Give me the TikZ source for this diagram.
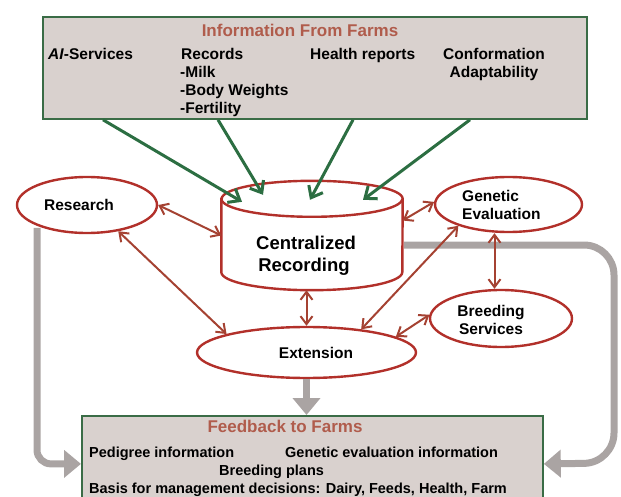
\documentclass[tikz,border=0pt]{standalone}
\usepackage{fontspec}
\setmainfont{Liberation Sans}
\usetikzlibrary{arrows.meta,calc,shapes.geometric}
\definecolor{boxgreen}{RGB}{58,108,70}
\definecolor{arrgreen}{RGB}{44,110,66}
\definecolor{ellred}{RGB}{178,48,42}
\definecolor{arrred}{RGB}{165,66,50}
\definecolor{titlered}{RGB}{176,92,76}
\definecolor{boxfill}{RGB}{217,209,206}
\definecolor{flowgray}{RGB}{170,164,163}
\begin{document}
\begin{tikzpicture}[x=1pt,y=-1pt,
  farmbox/.style={draw=boxgreen, line width=1.8pt, fill=boxfill, rectangle, inner sep=0pt},
  oval/.style={ellipse, draw=ellred, line width=2.4pt, fill=white, inner sep=0pt},
  lbl/.style={font=\bfseries\fontsize{15.5}{18}\selectfont, inner sep=0pt},
  blbl/.style={font=\bfseries\fontsize{14.5}{18}\selectfont, inner sep=0pt},
  olbl/.style={font=\bfseries\fontsize{15.5}{18}\selectfont, inner sep=0pt},
  biglbl/.style={font=\bfseries\fontsize{18.5}{22}\selectfont, inner sep=0pt},
  ttl/.style={font=\bfseries\fontsize{17}{20}\selectfont, text=titlered, inner sep=0pt},
  redarr/.style={draw=arrred, line width=2pt, {Straight Barb[length=8pt,width=12pt]}-{Straight Barb[length=8pt,width=12pt]}},
  greenarr/.style={draw=arrgreen, line width=3pt, -{Straight Barb[length=10pt,width=16pt]}},
  grayarr/.style={draw=flowgray, line width=7pt, -{Triangle[length=17pt,width=27pt]}},
]
\useasboundingbox (0,0) rectangle (621,497);

% ---- top box ----
\node[farmbox, minimum width=544pt, minimum height=102pt, anchor=north west] (top) at (42,16) {};
\node[ttl, anchor=base] (toptitle) at (300,37) {Information From Farms};
\node[lbl, anchor=base west] (ai) at (48,59.4) {\textit{AI}-Services};
\node[lbl, anchor=base west] (rec) at (181,59.4) {Records};
\node[lbl, anchor=base west] (milk) at (180,77.4) {-Milk};
\node[lbl, anchor=base west] (bw) at (180,95.4) {-Body Weights};
\node[lbl, anchor=base west] (fert) at (180,113.4) {-Fertility};
\node[lbl, anchor=base west] (health) at (310,59.4) {Health reports};
\node[lbl, anchor=base] (conf) at (494,59.4) {Conformation};
\node[lbl, anchor=base] (adapt) at (494,78) {Adaptability};

% ---- bottom box ----
\node[farmbox, minimum width=461pt, minimum height=96pt, anchor=north west] (fb) at (81,415) {};
\node[ttl, anchor=base] (fbtitle) at (285,432) {Feedback to Farms};
\node[blbl, anchor=base west] (ped) at (89,457) {Pedigree information};
\node[blbl, anchor=base west] (gei) at (285,457) {Genetic evaluation information};
\node[blbl, anchor=base west] (bp) at (219,475) {Breeding plans};
\node[blbl, anchor=base west] (basis) at (89,493) {Basis for management decisions: Dairy, Feeds, Health, Farm};

% ---- gray flows (behind) ----
\coordinate (resdrop) at (37,228);
\coordinate (cylout) at (404,245);
\draw[grayarr, rounded corners=14pt] (resdrop) |- (fb.west);
\draw[grayarr, rounded corners=30pt] (cylout) -- (614,245) -- (614,463) -- (fb.east);

% ---- ellipses ----
\node[oval, minimum width=140pt, minimum height=56pt] (res) at (87,205) {};
\node[olbl, anchor=base] (restxt) at (79,210.6) {Research};
\node[oval, minimum width=147pt, minimum height=55pt] (gen) at (508.5,204.5) {};
\node[olbl, anchor=base west] (gentxt1) at (462,201.5) {Genetic};
\node[olbl, anchor=base west] (gentxt2) at (462,220) {Evaluation};
\node[oval, minimum width=142pt, minimum height=57pt] (bre) at (501,318.5) {};
\node[olbl, anchor=base] (bretxt1) at (491,316) {Breeding};
\node[olbl, anchor=base] (bretxt2) at (491,334) {Services};
\node[oval, minimum width=219pt, minimum height=51pt] (ext) at (306.5,352.5) {};
\node[olbl, anchor=base] (exttxt) at (316,358) {Extension};

% ---- cylinder ----
\node[minimum width=181pt, minimum height=109pt, inner sep=0pt] (cyl) at (312,235.5) {};
\draw[draw=ellred, line width=2.4pt, fill=white]
  ([yshift=-18pt]cyl.north west) -- ([yshift=18pt]cyl.south west)
  arc[start angle=180, end angle=360, x radius=90.5pt, y radius=18pt]
  -- ([yshift=-18pt]cyl.north east)
  arc[start angle=0, end angle=180, x radius=90.5pt, y radius=18pt] -- cycle;
\draw[draw=ellred, line width=2.4pt]
  ([yshift=-18pt]cyl.north west) arc[start angle=180, end angle=360, x radius=90.5pt, y radius=18pt];
\node[biglbl, anchor=base] (cyltxt1) at (306,249.3) {Centralized};
\node[biglbl, anchor=base] (cyltxt2) at (304,271.7) {Recording};

% ---- gray flow from extension ----
\draw[grayarr] (ext.south) -- (ext.south |- fb.north);

% ---- green arrows ----
\draw[greenarr] ($(top.south west)+(61,0)$) -- ($(cyl.north)+(-70,21)$);
\draw[greenarr] ($(top.south west)+(176,0)$) -- ($(cyl.north)+(-49,14)$);
\draw[greenarr] ($(top.south west)+(311,0)$) -- ($(cyl.north)+(-2,19)$);
\draw[greenarr] ($(top.south west)+(428,0)$) -- ($(cyl.north)+(51,19)$);

% ---- red double arrows ----
\draw[redarr] (res.0) -- (cyl.west);
\draw[redarr] (res.-40) -- (ext.167);
\draw[redarr] (ext.north |- cyl.south) -- (ext.north);
\draw[redarr] ([yshift=15pt]cyl.east) -- (gen.178);
\draw[redarr] (ext.23) -- (gen.-157);
\draw[redarr] ([xshift=-14pt]gen.south) -- ([xshift=-14pt]gen.south |- bre.north);
\draw[redarr] (ext.10) -- (bre.177);
\end{tikzpicture}
\end{document}
